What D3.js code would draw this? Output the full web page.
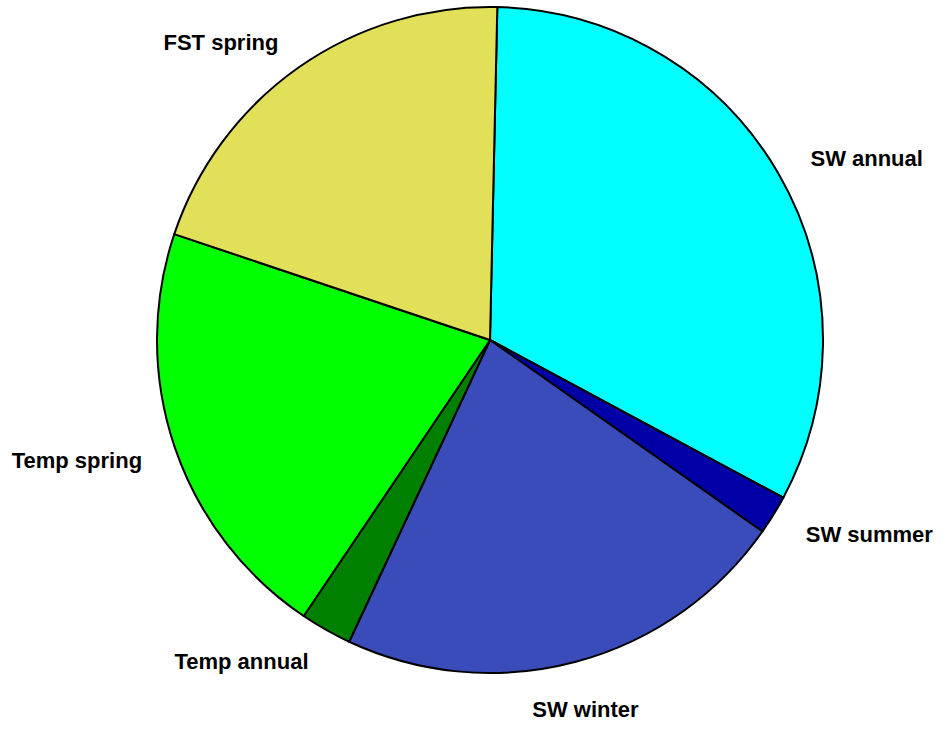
<!DOCTYPE html>
<html>
<head>
<meta charset="utf-8">
<script src="https://cdn.jsdelivr.net/npm/d3@7"></script>
<style>
	body { margin: 0; background: #fff; }
	svg text { font-family: "Liberation Sans", Arial, sans-serif; font-weight: bold; font-size: 22px; fill: #000; }
</style>
</head>
<body>
<script>
/******************/
/*     data       */
/******************/
// slices in clockwise order, starting just right of 12 o'clock
var labels = ["SW annual", "SW summer", "SW winter", "Temp annual", "Temp spring", "FST spring"];
var values = [32.5, 1.9, 22.2, 2.5, 20.7, 20.2];
var colors = ["#00FFFF", "#0000A6", "#3A4BBA", "#007F00", "#00FF00", "#E2E058"];

/******************/
/*   d3 init var  */
/******************/
var width = 943, height = 734;
var cx = 490, cy = 340, r = 333;
var startDeg = 1.26; // first boundary is slightly past vertical

var svg = d3.select("body")
	.append("svg")
	.attr("width", width)
	.attr("height", height);

var g = svg.append("g")
	.attr("transform", "translate(" + cx + "," + cy + ")");

var pie = d3.pie()
	.sort(null)
	.value(function(d) { return d; })
	.startAngle(startDeg * Math.PI / 180)
	.endAngle(startDeg * Math.PI / 180 + 2 * Math.PI);

var arcs = pie(values);

var arc = d3.arc().innerRadius(0).outerRadius(r);
// labels sit at 1.1 radius on the slice middle
var labelArc = d3.arc().innerRadius(r * 1.1).outerRadius(r * 1.1);

/******************/
/*    d3 draw     */
/******************/
g.selectAll("path.slice")
	.data(arcs)
	.enter()
	.append("path")
	.attr("class", "slice")
	.attr("d", arc)
	.attr("fill", function(d, i) { return colors[i]; })
	.attr("stroke", "#000")
	.attr("stroke-width", 2)
	.attr("stroke-linejoin", "round");

g.selectAll("text.lbl")
	.data(arcs)
	.enter()
	.append("text")
	.attr("class", "lbl")
	.each(function(d, i) {
		var p = labelArc.centroid(d);
		var t = d3.select(this);
		var side = Math.abs(p[0]) < r * 0.3;
		if (side) {
			// near bottom: centred, hanging below the point
			t.attr("text-anchor", "middle")
				.attr("x", p[0] + 1)
				.attr("y", p[1] + 23);
		} else {
			t.attr("text-anchor", p[0] > 0 ? "start" : "end")
				.attr("x", p[0] + (p[0] > 0 ? 4 : -1))
				.attr("y", p[1] + 10);
		}
		t.text(labels[i]);
	});
</script>
</body>
</html>
